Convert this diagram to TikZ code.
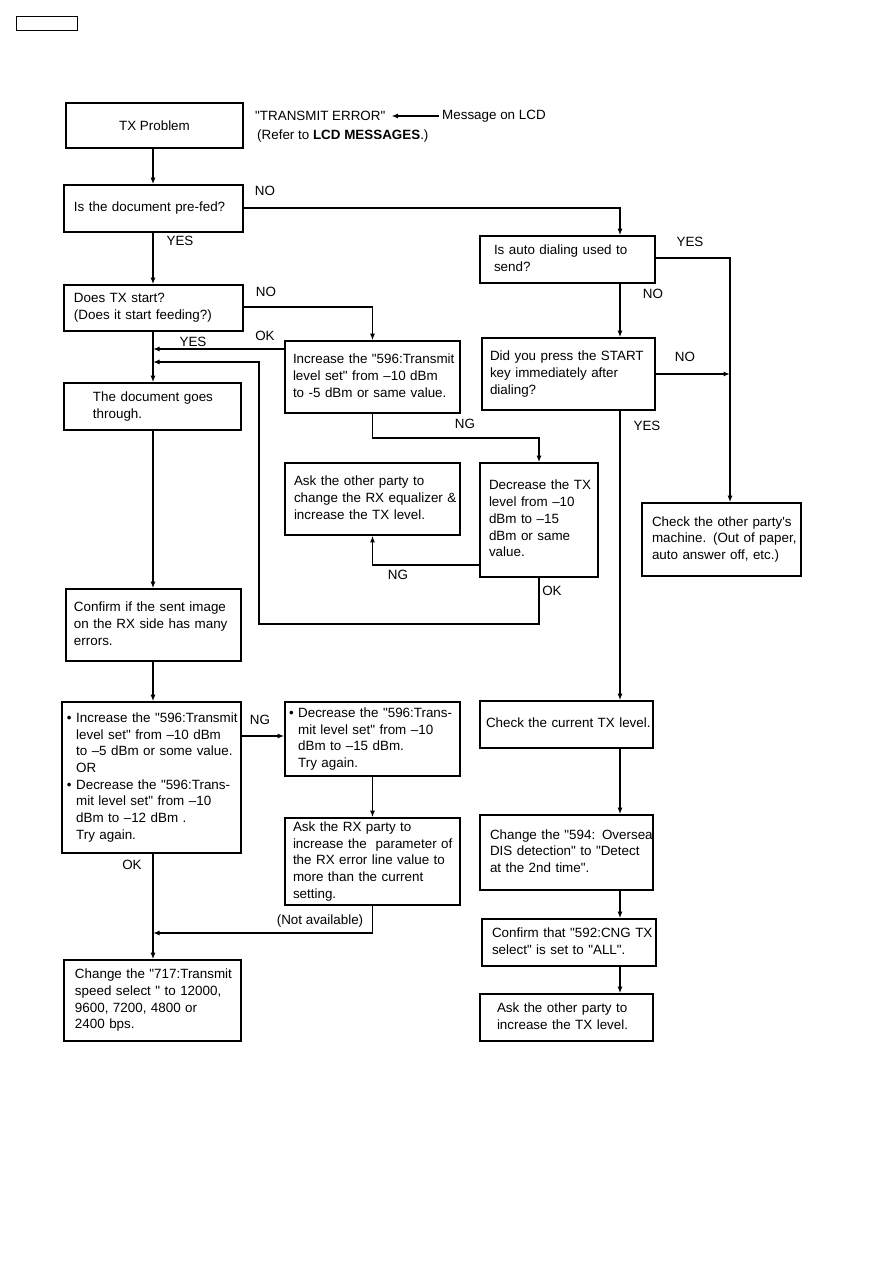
\documentclass[tikz,border=0pt]{standalone}
\usepackage{fontspec}
\setmainfont{Liberation Sans}[Ligatures=TeXOff]
\usetikzlibrary{arrows.meta}
\newcommand\bxnode[7]{%
  \pgfmathsetmacro\myBW{#4-#2}\pgfmathsetmacro\myBH{#5-#3}\pgfmathsetmacro\myTW{#4-#2-2*#6}%
  \node[box, minimum width=\myBW bp, minimum height=\myBH bp, text width=\myTW bp]
    (#1) at ({(#2+#4)/2},{(#3+#5)/2}) {\begin{tabular}{@{}l@{}}#7\end{tabular}};}
\begin{document}
\begin{tikzpicture}[x=1bp,y=-1bp,
  txt/.style={font=\fontsize{13.4bp}{16.7bp}\selectfont},
  box/.style={draw, line width=1.6bp, inner sep=0pt, align=left, txt},
  conn/.style={line width=1.5bp, -{Latex[length=6.5bp,width=5bp]}},
  lbl/.style={inner sep=0pt, txt}]
\useasboundingbox (0,0) rectangle (893,1263);
\fill[white] (0,0) rectangle (893,1263);

\node[draw, line width=0.8bp, minimum width=61bp, minimum height=14bp, inner sep=0pt] (tag) at (46.5,23) {};

% header
\node[draw, line width=1.6bp, minimum width=177bp, minimum height=45bp, inner sep=0pt, txt] (txp) at (154.5,125.5) {TX Problem};
\node[lbl, anchor=west] (terr) at (255,116) {"TRANSMIT ERROR"};
\node[lbl, anchor=west] (msg) at (442,116) {Message on LCD};
\node[lbl, anchor=west] (refer) at (257,136) {(Refer to \textbf{LCD MESSAGES}.)};
\draw[conn, shorten >=6bp, shorten <=3bp] (msg.west) -- (terr.east);

% left column
\bxnode{prefed}{64}{185}{243}{232}{10}{Is the document pre-fed?}
\bxnode{doestx}{64}{285}{243}{331}{10}{Does TX start?\\(Does it start feeding?)}
\bxnode{through}{64}{383}{241}{430}{29}{The document goes\\through.}
\bxnode{confirm}{66}{589}{241}{661}{8}{Confirm if the sent image\\on the RX side has many\\errors.}
\bxnode{bullet}{62}{702}{241}{853}{5}{%
•\ Increase the "596:Transmit\\
\hphantom{•\ }level set" from –10 dBm\\
\hphantom{•\ }to –5 dBm or some value.\\
\hphantom{•\ }OR\\
•\ Decrease the "596:Trans-\\
\hphantom{•\ }mit level set" from –10\\
\hphantom{•\ }dBm to –12 dBm .\\
\hphantom{•\ }Try again.}
\bxnode{ch717}{64}{960}{241}{1041}{11}{Change the "717:Transmit\\speed select " to 12000,\\9600, 7200, 4800 or\\2400 bps.}

% middle column
\bxnode{inc}{285}{341}{460}{413}{8}{Increase the "596:Transmit\\level set" from –10 dBm\\to -5 dBm or same value.}
\bxnode{askeq}{285}{463}{460}{535}{9}{Ask the other party to\\change the RX equalizer \&\\increase the TX level.}
\bxnode{dectx}{480}{463}{598}{577}{9}{Decrease the TX\\level from –10\\dBm to –15\\dBm or same\\value.}
\bxnode{dec596}{285}{702}{460}{776}{4}{%
•\ Decrease the "596:Trans-\\
\hphantom{•\ }mit level set" from –10\\
\hphantom{•\ }dBm to –15 dBm.\\
\hphantom{•\ }Try again.}
\bxnode{askrx}{285}{818}{460}{905}{8}{Ask the RX party to\\increase the\ \ parameter of\\the RX error line value to\\more than the current\\setting.}

% right column
\bxnode{auto}{480}{236}{655}{283}{14}{Is auto dialing used to\\send?}
\bxnode{start}{482}{338}{655}{410}{8}{Did you press the START\\key immediately after\\dialing?}
\bxnode{other}{642}{503}{801}{576}{10}{Check the other party's\\machine. (Out of paper,\\auto answer off, etc.)}
\bxnode{chktx}{480}{701}{653}{748}{6}{Check the current TX level.}
\bxnode{ch594}{480}{815}{653}{890}{10}{Change the "594: Oversea\\DIS detection" to "Detect\\at the 2nd time".}
\bxnode{c592}{482}{919}{656}{966}{10}{Confirm that "592:CNG TX\\select" is set to "ALL".}
\bxnode{askother}{480}{994}{653}{1041}{17}{Ask the other party to\\increase the TX level.}

% helper coordinates
\coordinate (trunk) at (153,0);
\coordinate (rcol) at (620,0);
\coordinate (rr) at (730,0);
\coordinate (t1) at (153,349);
\coordinate (t2) at (153,362);
\coordinate (loopL) at (259,624);
\coordinate (nav) at (153,933);

% connectors left column
\draw[conn] (trunk |- txp.south) -- (trunk |- prefed.north);
\draw[conn] (trunk |- prefed.south) -- (trunk |- doestx.north);
\draw[conn] (trunk |- doestx.south) -- (trunk |- through.north);
\draw[conn] (trunk |- through.south) -- (trunk |- confirm.north);
\draw[conn] (trunk |- confirm.south) -- (trunk |- bullet.north);
\draw[conn] (trunk |- bullet.south) -- (trunk |- ch717.north);

\draw[conn] (prefed.east |- 0,208) -| (rcol |- auto.north);
\draw[conn] (doestx.east |- 0,307) -| (inc.north);
\draw[conn] (inc.west |- t1) -- (t1);
\draw[conn] (dectx.south) |- (loopL) |- (t2);
\draw[conn] (inc.south) -- ++(0,24) -| (dectx.north);
\draw[conn] (dectx.west |- 0,565) -| (askeq.south);
\draw[conn] (bullet.east |- 0,736) -- (dec596.west |- 0,736);
\draw[conn] (dec596.south) -- (askrx.north);
\draw[conn] (askrx.south) |- (nav);

% connectors right column
\draw[conn] (auto.east |- 0,258) -| (rr |- other.north);
\draw[conn] (rcol |- auto.south) -- (rcol |- start.north);
\draw[conn] (start.east) -- (rr |- start.east);
\draw[conn] (rcol |- start.south) -- (rcol |- chktx.north);
\draw[conn] (rcol |- chktx.south) -- (rcol |- ch594.north);
\draw[conn] (rcol |- ch594.south) -- (rcol |- c592.north);
\draw[conn] (rcol |- c592.south) -- (rcol |- askother.north);

% labels
\node[lbl] (l1) at (265,191) {NO};
\node[lbl] (l2) at (180,241) {YES};
\node[lbl] (l3) at (266,292) {NO};
\node[lbl] (l4) at (193,342) {YES};
\node[lbl] (l5) at (265,336) {OK};
\node[lbl] (l6) at (465,424) {NG};
\node[lbl] (l7) at (398,575) {NG};
\node[lbl] (l8) at (552,591) {OK};
\node[lbl] (l9) at (260,720) {NG};
\node[lbl] (l10) at (132,865) {OK};
\node[lbl] (l11) at (320,921) {(Not available)};
\node[lbl] (l12) at (690,242) {YES};
\node[lbl] (l13) at (653,294) {NO};
\node[lbl] (l14) at (685,357) {NO};
\node[lbl] (l15) at (647,426) {YES};
\end{tikzpicture}
\end{document}
